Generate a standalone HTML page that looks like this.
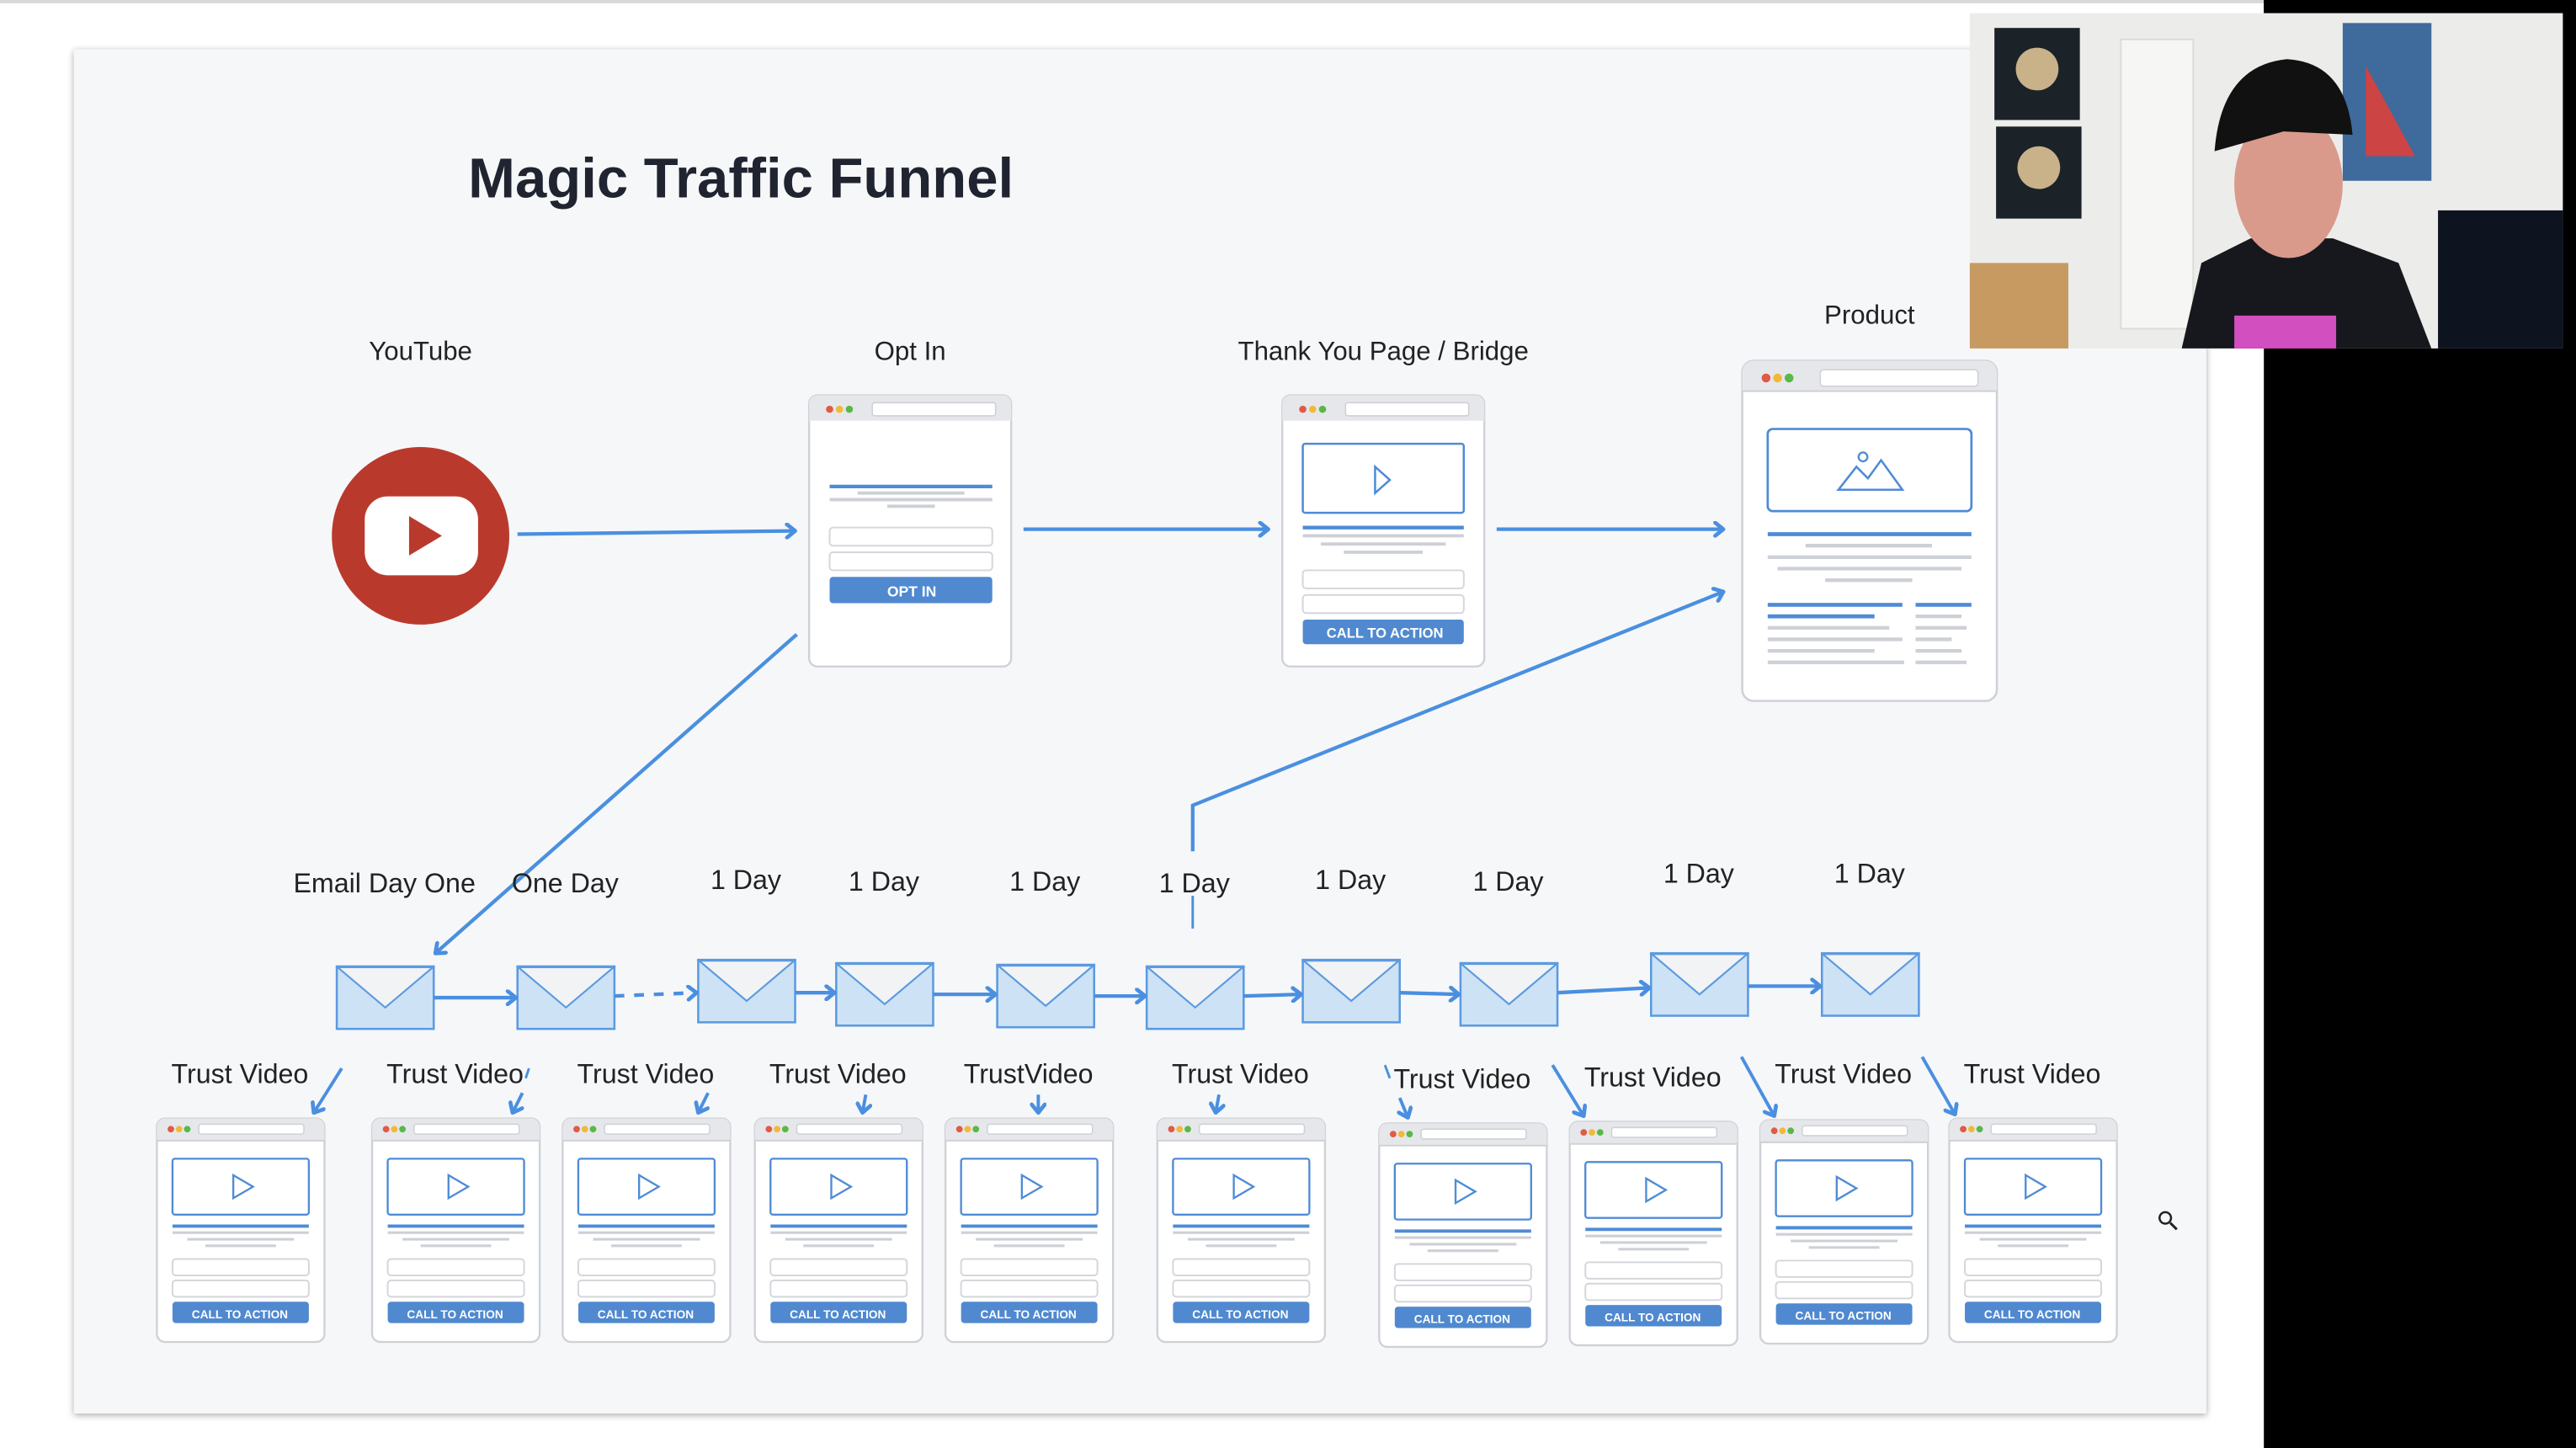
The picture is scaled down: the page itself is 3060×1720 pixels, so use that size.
<!DOCTYPE html>
<html><head><meta charset="utf-8"><style>
html,body{margin:0;padding:0;width:3060px;height:1720px;overflow:hidden;background:#fff}
svg{display:block}
text{font-family:"Liberation Sans",sans-serif}
</style></head><body>
<svg width="3060" height="1720" viewBox="0 0 1568 881" preserveAspectRatio="none" xmlns="http://www.w3.org/2000/svg">
<defs>
<marker id="ah" markerWidth="10" markerHeight="10" refX="7" refY="5" orient="auto" markerUnits="userSpaceOnUse">
<path d="M2,1 L7,5 L2,9" fill="none" stroke="#4a8fe0" stroke-width="2.4" stroke-linecap="round" stroke-linejoin="round"/>
</marker>
<filter id="sh" x="-5%" y="-5%" width="110%" height="110%"><feDropShadow dx="0" dy="1" stdDeviation="2" flood-opacity="0.35"/></filter>
<g id="tp">
<rect x="0.5" y="0.5" width="102" height="136" rx="5" fill="#fff" stroke="#cfd1d6" stroke-width="1.2"/>
<path d="M0.5,14 V5.5 a5,5 0 0 1 5,-5 H97.5 a5,5 0 0 1 5,5 V14 Z" fill="#e6e7ea"/>
<line x1="0.5" y1="14" x2="102.5" y2="14" stroke="#cfd1d6" stroke-width="1"/>
<circle cx="9" cy="7" r="2" fill="#e05a45"/><circle cx="14" cy="7" r="2" fill="#f0b93a"/><circle cx="19" cy="7" r="2" fill="#58b848"/>
<rect x="26" y="4" width="64" height="6" rx="1.5" fill="#fff" stroke="#cfd1d6" stroke-width="0.8"/>
<rect x="10" y="25" width="83" height="34" rx="1.5" fill="#fff" stroke="#4f8bd6" stroke-width="1.2"/>
<path d="M47,35 L59,42 L47,49 Z" fill="none" stroke="#4f8bd6" stroke-width="1.2"/>
<line x1="10" y1="66" x2="93" y2="66" stroke="#4f8bd6" stroke-width="2"/>
<line x1="10" y1="70" x2="93" y2="70" stroke="#cdd0d6" stroke-width="1.6"/>
<line x1="19" y1="74" x2="84" y2="74" stroke="#cdd0d6" stroke-width="1.6"/>
<line x1="30" y1="78" x2="73" y2="78" stroke="#cdd0d6" stroke-width="1.6"/>
<rect x="10" y="86" width="83" height="10" rx="2" fill="#fff" stroke="#d4d6db" stroke-width="1"/>
<rect x="10" y="99" width="83" height="10" rx="2" fill="#fff" stroke="#d4d6db" stroke-width="1"/>
<rect x="10" y="112" width="83" height="13" rx="2" fill="#5089cf"/>
</g>
<g id="env">
<rect x="0" y="0" width="59" height="38" fill="#cde2f5" stroke="#5b9ae0" stroke-width="1.3"/>
<path d="M0.5,0.5 L29.5,25 L58.5,0.5 Z" fill="#f2f3f4" stroke="#5b9ae0" stroke-width="1.1"/>
</g>
</defs>

<rect x="0" y="0" width="1568" height="881" fill="#fff"/>
<rect x="0" y="0" width="1378" height="2" fill="#d8d8d8"/>
<rect x="45" y="30" width="1298" height="830" fill="#f6f7f9" filter="url(#sh)"/>
<rect x="1378" y="0" width="190" height="881" fill="#000"/>

<text x="285" y="120" font-size="34" font-weight="bold" fill="#1f2430" textLength="332" lengthAdjust="spacingAndGlyphs">Magic Traffic Funnel</text>

<g font-size="16" fill="#222" text-anchor="middle">
<text x="256" y="219">YouTube</text>
<text x="554" y="219">Opt In</text>
<text x="842" y="219">Thank You Page / Bridge</text>
<text x="1138" y="197">Product</text>
</g>

<circle cx="256" cy="326" r="54" fill="#b93a2d"/>
<rect x="222" y="302" width="69" height="48" rx="14" fill="#fff"/>
<path d="M249,314 L269,326 L249,338 Z" fill="#b93a2d"/>

<g transform="translate(492,240)">
<rect x="0.5" y="0.5" width="123" height="165" rx="5" fill="#fff" stroke="#cfd1d6" stroke-width="1.2"/>
<path d="M0.5,16 V5.5 a5,5 0 0 1 5,-5 H118.5 a5,5 0 0 1 5,5 V16 Z" fill="#e6e7ea"/>
<circle cx="13" cy="9" r="2.2" fill="#e05a45"/><circle cx="19" cy="9" r="2.2" fill="#f0b93a"/><circle cx="25" cy="9" r="2.2" fill="#58b848"/>
<rect x="39" y="5" width="75" height="8" rx="1.5" fill="#fff" stroke="#cfd1d6" stroke-width="0.8"/>
<line x1="13" y1="56" x2="112" y2="56" stroke="#4f8bd6" stroke-width="2.2"/>
<line x1="30" y1="60" x2="95" y2="60" stroke="#cdd0d6" stroke-width="2"/>
<line x1="13" y1="64" x2="112" y2="64" stroke="#cdd0d6" stroke-width="2"/>
<line x1="48" y1="68" x2="77" y2="68" stroke="#cdd0d6" stroke-width="2"/>
<rect x="13" y="81" width="99" height="11" rx="2" fill="#fff" stroke="#d4d6db"/>
<rect x="13" y="96" width="99" height="11" rx="2" fill="#fff" stroke="#d4d6db"/>
<rect x="13" y="111" width="99" height="16" rx="2" fill="#5089cf"/>
<text x="63" y="123" font-size="9" font-weight="bold" fill="#fff" text-anchor="middle">OPT IN</text>
</g>

<g transform="translate(780,240)">
<rect x="0.5" y="0.5" width="123" height="165" rx="5" fill="#fff" stroke="#cfd1d6" stroke-width="1.2"/>
<path d="M0.5,16 V5.5 a5,5 0 0 1 5,-5 H118.5 a5,5 0 0 1 5,5 V16 Z" fill="#e6e7ea"/>
<circle cx="13" cy="9" r="2.2" fill="#e05a45"/><circle cx="19" cy="9" r="2.2" fill="#f0b93a"/><circle cx="25" cy="9" r="2.2" fill="#58b848"/>
<rect x="39" y="5" width="75" height="8" rx="1.5" fill="#fff" stroke="#cfd1d6" stroke-width="0.8"/>
<rect x="13" y="30" width="98" height="42" rx="1.5" fill="#fff" stroke="#4f8bd6" stroke-width="1.3"/>
<path d="M57,44 L66,52 L57,60 Z" fill="none" stroke="#4f8bd6" stroke-width="1.3"/>
<line x1="13" y1="81" x2="111" y2="81" stroke="#4f8bd6" stroke-width="2.2"/>
<line x1="13" y1="86" x2="111" y2="86" stroke="#cdd0d6" stroke-width="2"/>
<line x1="24" y1="91" x2="100" y2="91" stroke="#cdd0d6" stroke-width="2"/>
<line x1="38" y1="96" x2="86" y2="96" stroke="#cdd0d6" stroke-width="2"/>
<rect x="13" y="107" width="98" height="11" rx="2" fill="#fff" stroke="#d4d6db"/>
<rect x="13" y="122" width="98" height="11" rx="2" fill="#fff" stroke="#d4d6db"/>
<rect x="13" y="137" width="98" height="15" rx="2" fill="#5089cf"/>
<text x="63" y="148" font-size="8.5" font-weight="bold" fill="#fff" text-anchor="middle">CALL TO ACTION</text>
</g>

<g transform="translate(1060,219)">
<rect x="0.5" y="0.5" width="155" height="207" rx="7" fill="#fff" stroke="#cfd1d6" stroke-width="1.3"/>
<path d="M0.5,19 V7.5 a7,7 0 0 1 7,-7 H148.5 a7,7 0 0 1 7,7 V19 Z" fill="#e6e7ea"/>
<line x1="0.5" y1="19" x2="155.5" y2="19" stroke="#cfd1d6"/>
<circle cx="15" cy="11" r="2.7" fill="#e05a45"/><circle cx="22" cy="11" r="2.7" fill="#f0b93a"/><circle cx="29" cy="11" r="2.7" fill="#58b848"/>
<rect x="48" y="6" width="96" height="10" rx="2" fill="#fff" stroke="#cfd1d6" stroke-width="0.8"/>
<rect x="16" y="42" width="124" height="50" rx="3" fill="#fff" stroke="#4f8bd6" stroke-width="1.4"/>
<path d="M59,79 L70,65 L77,72 L85,61 L98,79 Z" fill="none" stroke="#4f8bd6" stroke-width="1.3"/>
<circle cx="74" cy="59" r="2.7" fill="none" stroke="#4f8bd6" stroke-width="1.2"/>
<line x1="16" y1="106" x2="140" y2="106" stroke="#4f8bd6" stroke-width="2.4"/>
<line x1="39" y1="113" x2="116" y2="113" stroke="#cdd0d6" stroke-width="2.2"/>
<line x1="16" y1="120" x2="140" y2="120" stroke="#cdd0d6" stroke-width="2.2"/>
<line x1="22" y1="127" x2="134" y2="127" stroke="#cdd0d6" stroke-width="2.2"/>
<line x1="51" y1="134" x2="104" y2="134" stroke="#cdd0d6" stroke-width="2.2"/>
<line x1="16" y1="149" x2="98" y2="149" stroke="#4f8bd6" stroke-width="2.4"/>
<line x1="106" y1="149" x2="140" y2="149" stroke="#4f8bd6" stroke-width="2.4"/>
<line x1="16" y1="156" x2="81" y2="156" stroke="#4f8bd6" stroke-width="2.4"/>
<line x1="106" y1="156" x2="134" y2="156" stroke="#cdd0d6" stroke-width="2.2"/>
<line x1="16" y1="163" x2="90" y2="163" stroke="#cdd0d6" stroke-width="2.2"/>
<line x1="106" y1="163" x2="137" y2="163" stroke="#cdd0d6" stroke-width="2.2"/>
<line x1="16" y1="170" x2="98" y2="170" stroke="#cdd0d6" stroke-width="2.2"/>
<line x1="106" y1="170" x2="128" y2="170" stroke="#cdd0d6" stroke-width="2.2"/>
<line x1="16" y1="177" x2="81" y2="177" stroke="#cdd0d6" stroke-width="2.2"/>
<line x1="106" y1="177" x2="134" y2="177" stroke="#cdd0d6" stroke-width="2.2"/>
<line x1="16" y1="184" x2="99" y2="184" stroke="#cdd0d6" stroke-width="2.2"/>
<line x1="106" y1="184" x2="137" y2="184" stroke="#cdd0d6" stroke-width="2.2"/>
</g>

<g stroke="#4a8fe0" stroke-width="2.2" fill="none" marker-end="url(#ah)">
<line x1="315" y1="325" x2="484" y2="323"/>
<line x1="623" y1="322" x2="772" y2="322"/>
<line x1="911" y1="322" x2="1049" y2="322"/>
<line x1="485" y1="386" x2="265" y2="580"/>
<polyline points="726,518 726,490 1049,360"/>
</g>
<line x1="726" y1="545" x2="726" y2="565" stroke="#4a8fe0" stroke-width="1.5"/>

<g font-size="16.5" fill="#222" text-anchor="middle">
<text x="234" y="543">Email Day One</text>
<text x="344" y="543">One Day</text>
<text x="454" y="541">1 Day</text>
<text x="538" y="542">1 Day</text>
<text x="636" y="542">1 Day</text>
<text x="727" y="543">1 Day</text>
<text x="822" y="541">1 Day</text>
<text x="918" y="542">1 Day</text>
<text x="1034" y="537">1 Day</text>
<text x="1138" y="537">1 Day</text>
</g>

<use href="#env" x="205" y="588"/>
<use href="#env" x="315" y="588"/>
<use href="#env" x="425" y="584"/>
<use href="#env" x="509" y="586"/>
<use href="#env" x="607" y="587"/>
<use href="#env" x="698" y="588"/>
<use href="#env" x="793" y="584"/>
<use href="#env" x="889" y="586"/>
<use href="#env" x="1005" y="580"/>
<use href="#env" x="1109" y="580"/>

<g stroke="#4a8fe0" stroke-width="2.2" fill="none" marker-end="url(#ah)">
<line x1="264" y1="607" x2="314" y2="607"/>
<line x1="374" y1="606" x2="424" y2="604" stroke-dasharray="6,6"/>
<line x1="484" y1="604" x2="508" y2="604"/>
<line x1="568" y1="605" x2="606" y2="605"/>
<line x1="666" y1="606" x2="697" y2="606"/>
<line x1="757" y1="606" x2="792" y2="605"/>
<line x1="852" y1="604" x2="888" y2="605"/>
<line x1="948" y1="604" x2="1004" y2="601"/>
<line x1="1064" y1="600" x2="1108" y2="600"/>
</g>

<g font-size="16.5" fill="#222" text-anchor="middle">
<text x="146" y="659">Trust Video</text>
<text x="277" y="659">Trust Video</text>
<text x="393" y="659">Trust Video</text>
<text x="510" y="659">Trust Video</text>
<text x="626" y="659">TrustVideo</text>
<text x="755" y="659">Trust Video</text>
<text x="890" y="662">Trust Video</text>
<text x="1006" y="661">Trust Video</text>
<text x="1122" y="659">Trust Video</text>
<text x="1237" y="659">Trust Video</text>
</g>

<use href="#tp" x="95" y="680"/>
<use href="#tp" x="226" y="680"/>
<use href="#tp" x="342" y="680"/>
<use href="#tp" x="459" y="680"/>
<use href="#tp" x="575" y="680"/>
<use href="#tp" x="704" y="680"/>
<use href="#tp" x="839" y="683"/>
<use href="#tp" x="955" y="682"/>
<use href="#tp" x="1071" y="681"/>
<use href="#tp" x="1186" y="680"/>
<g font-size="7" font-weight="bold" fill="#fff" text-anchor="middle">
<text x="146" y="802">CALL TO ACTION</text>
<text x="277" y="802">CALL TO ACTION</text>
<text x="393" y="802">CALL TO ACTION</text>
<text x="510" y="802">CALL TO ACTION</text>
<text x="626" y="802">CALL TO ACTION</text>
<text x="755" y="802">CALL TO ACTION</text>
<text x="890" y="805">CALL TO ACTION</text>
<text x="1006" y="804">CALL TO ACTION</text>
<text x="1122" y="803">CALL TO ACTION</text>
<text x="1237" y="802">CALL TO ACTION</text>
</g>

<g stroke="#4a8fe0" stroke-width="2" fill="none" marker-end="url(#ah)">
<line x1="208" y1="650" x2="191" y2="677"/>
<line x1="318" y1="665" x2="312" y2="677"/>
<line x1="431" y1="665" x2="425" y2="677"/>
<line x1="527" y1="666" x2="525" y2="677"/>
<line x1="632" y1="666" x2="632" y2="677"/>
<line x1="742" y1="666" x2="740" y2="677"/>
<line x1="852" y1="668" x2="857" y2="680"/>
<line x1="945" y1="648" x2="964" y2="679"/>
<line x1="1060" y1="643" x2="1080" y2="679"/>
<line x1="1170" y1="643" x2="1190" y2="678"/>
</g>
<line x1="322" y1="650" x2="320" y2="656" stroke="#4a8fe0" stroke-width="1.5"/>
<line x1="843" y1="648" x2="846" y2="656" stroke="#4a8fe0" stroke-width="1.5"/>

<circle cx="1318" cy="741" r="3.5" fill="none" stroke="#222" stroke-width="1.3"/>
<line x1="1321" y1="744" x2="1325" y2="748" stroke="#222" stroke-width="1.5"/>

<!-- webcam -->
<rect x="1378" y="0" width="132" height="8" fill="#000"/>
<rect x="1199" y="8" width="361" height="204" fill="#ecedeb"/>
<rect x="1214" y="17" width="52" height="56" fill="#1b2228"/>
<rect x="1215" y="77" width="52" height="56" fill="#1b2228"/>
<circle cx="1240" cy="42" r="13" fill="#c9b18a"/>
<circle cx="1241" cy="102" r="13" fill="#c9b18a"/>
<rect x="1291" y="24" width="44" height="176" fill="#f6f6f4" stroke="#dcdcd8"/>
<rect x="1426" y="14" width="54" height="96" fill="#3f6a9c"/>
<path d="M1440,40 L1470,95 L1440,95 Z" fill="#c44"/>
<rect x="1199" y="160" width="60" height="52" fill="#c79a62"/>
<rect x="1484" y="128" width="76" height="84" fill="#0d1420"/>
<path d="M1328,212 L1340,160 L1370,145 L1420,145 L1460,160 L1480,212 Z" fill="#16181d"/>
<ellipse cx="1393" cy="112" rx="33" ry="45" fill="#d99a8c"/>
<path d="M1348,92 Q1352,40 1392,36 Q1428,38 1432,82 L1390,80 Z" fill="#111"/>
<rect x="1360" y="192" width="62" height="20" fill="#d24fc0"/>
</svg>
</body></html>
